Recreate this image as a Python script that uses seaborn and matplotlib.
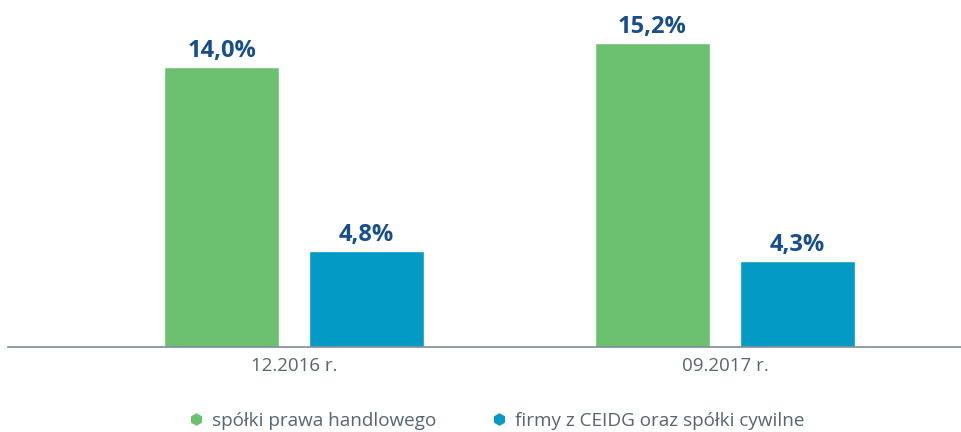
import matplotlib
matplotlib.use("Agg")
import matplotlib.pyplot as plt
from matplotlib.lines import Line2D
import seaborn as sns
import pandas as pd

categories = ["12.2016 r.", "09.2017 r."]
series_names = ["spółki prawa handlowego", "firmy z CEIDG oraz spółki cywilne"]
values_spolki = [14.0, 15.2]
values_ceidg = [4.8, 4.3]
colors = ["#6cc171", "#049ac6"]

df = pd.DataFrame({
    "okres": categories * 2,
    "seria": [series_names[0]] * 2 + [series_names[1]] * 2,
    "wartosc": values_spolki + values_ceidg,
})

sns.set_theme(style="white")
plt.rcParams["font.family"] = ["Open Sans", "DejaVu Sans"]

fig = plt.figure(figsize=(9.62, 4.32), dpi=100)
ax = fig.add_axes([8 / 962, 85 / 432, 954 / 962, 347 / 432])

sns.barplot(data=df, x="okres", y="wartosc", hue="seria", hue_order=series_names,
            palette=colors, width=0.673, gap=0.207, saturation=1, ax=ax,
            legend=False, errorbar=None)

for cont in ax.containers:
    labels = [f"{v:.1f}%".replace(".", ",") for v in cont.datavalues]
    ax.bar_label(cont, labels=labels, padding=3, fontsize=17, fontweight="bold",
                 color="#164f8b")

ax.set_xlim(-0.664, 1.55)
ax.set_ylim(0, 17.35)
ax.set_xlabel("")
ax.set_ylabel("")
ax.set_yticks([])
for s in ["top", "right", "left"]:
    ax.spines[s].set_visible(False)
ax.spines["bottom"].set_color("#7d8c96")
ax.spines["bottom"].set_linewidth(1.2)
ax.tick_params(axis="x", length=0, pad=7, labelsize=13.5, labelcolor="#56656f")

handles = [Line2D([0], [0], marker="h", linestyle="", markersize=8,
                  markerfacecolor=c, markeredgecolor=c) for c in colors]
fig.legend(handles, series_names, loc="center", bbox_to_anchor=(0.515, 1 - 421 / 432),
           ncol=2, frameon=False, fontsize=13.6, labelcolor="#56656f",
           handletextpad=0.35, columnspacing=2.8, handlelength=1.0,
           borderaxespad=0, borderpad=0)

fig.savefig("out.png", dpi=100)
